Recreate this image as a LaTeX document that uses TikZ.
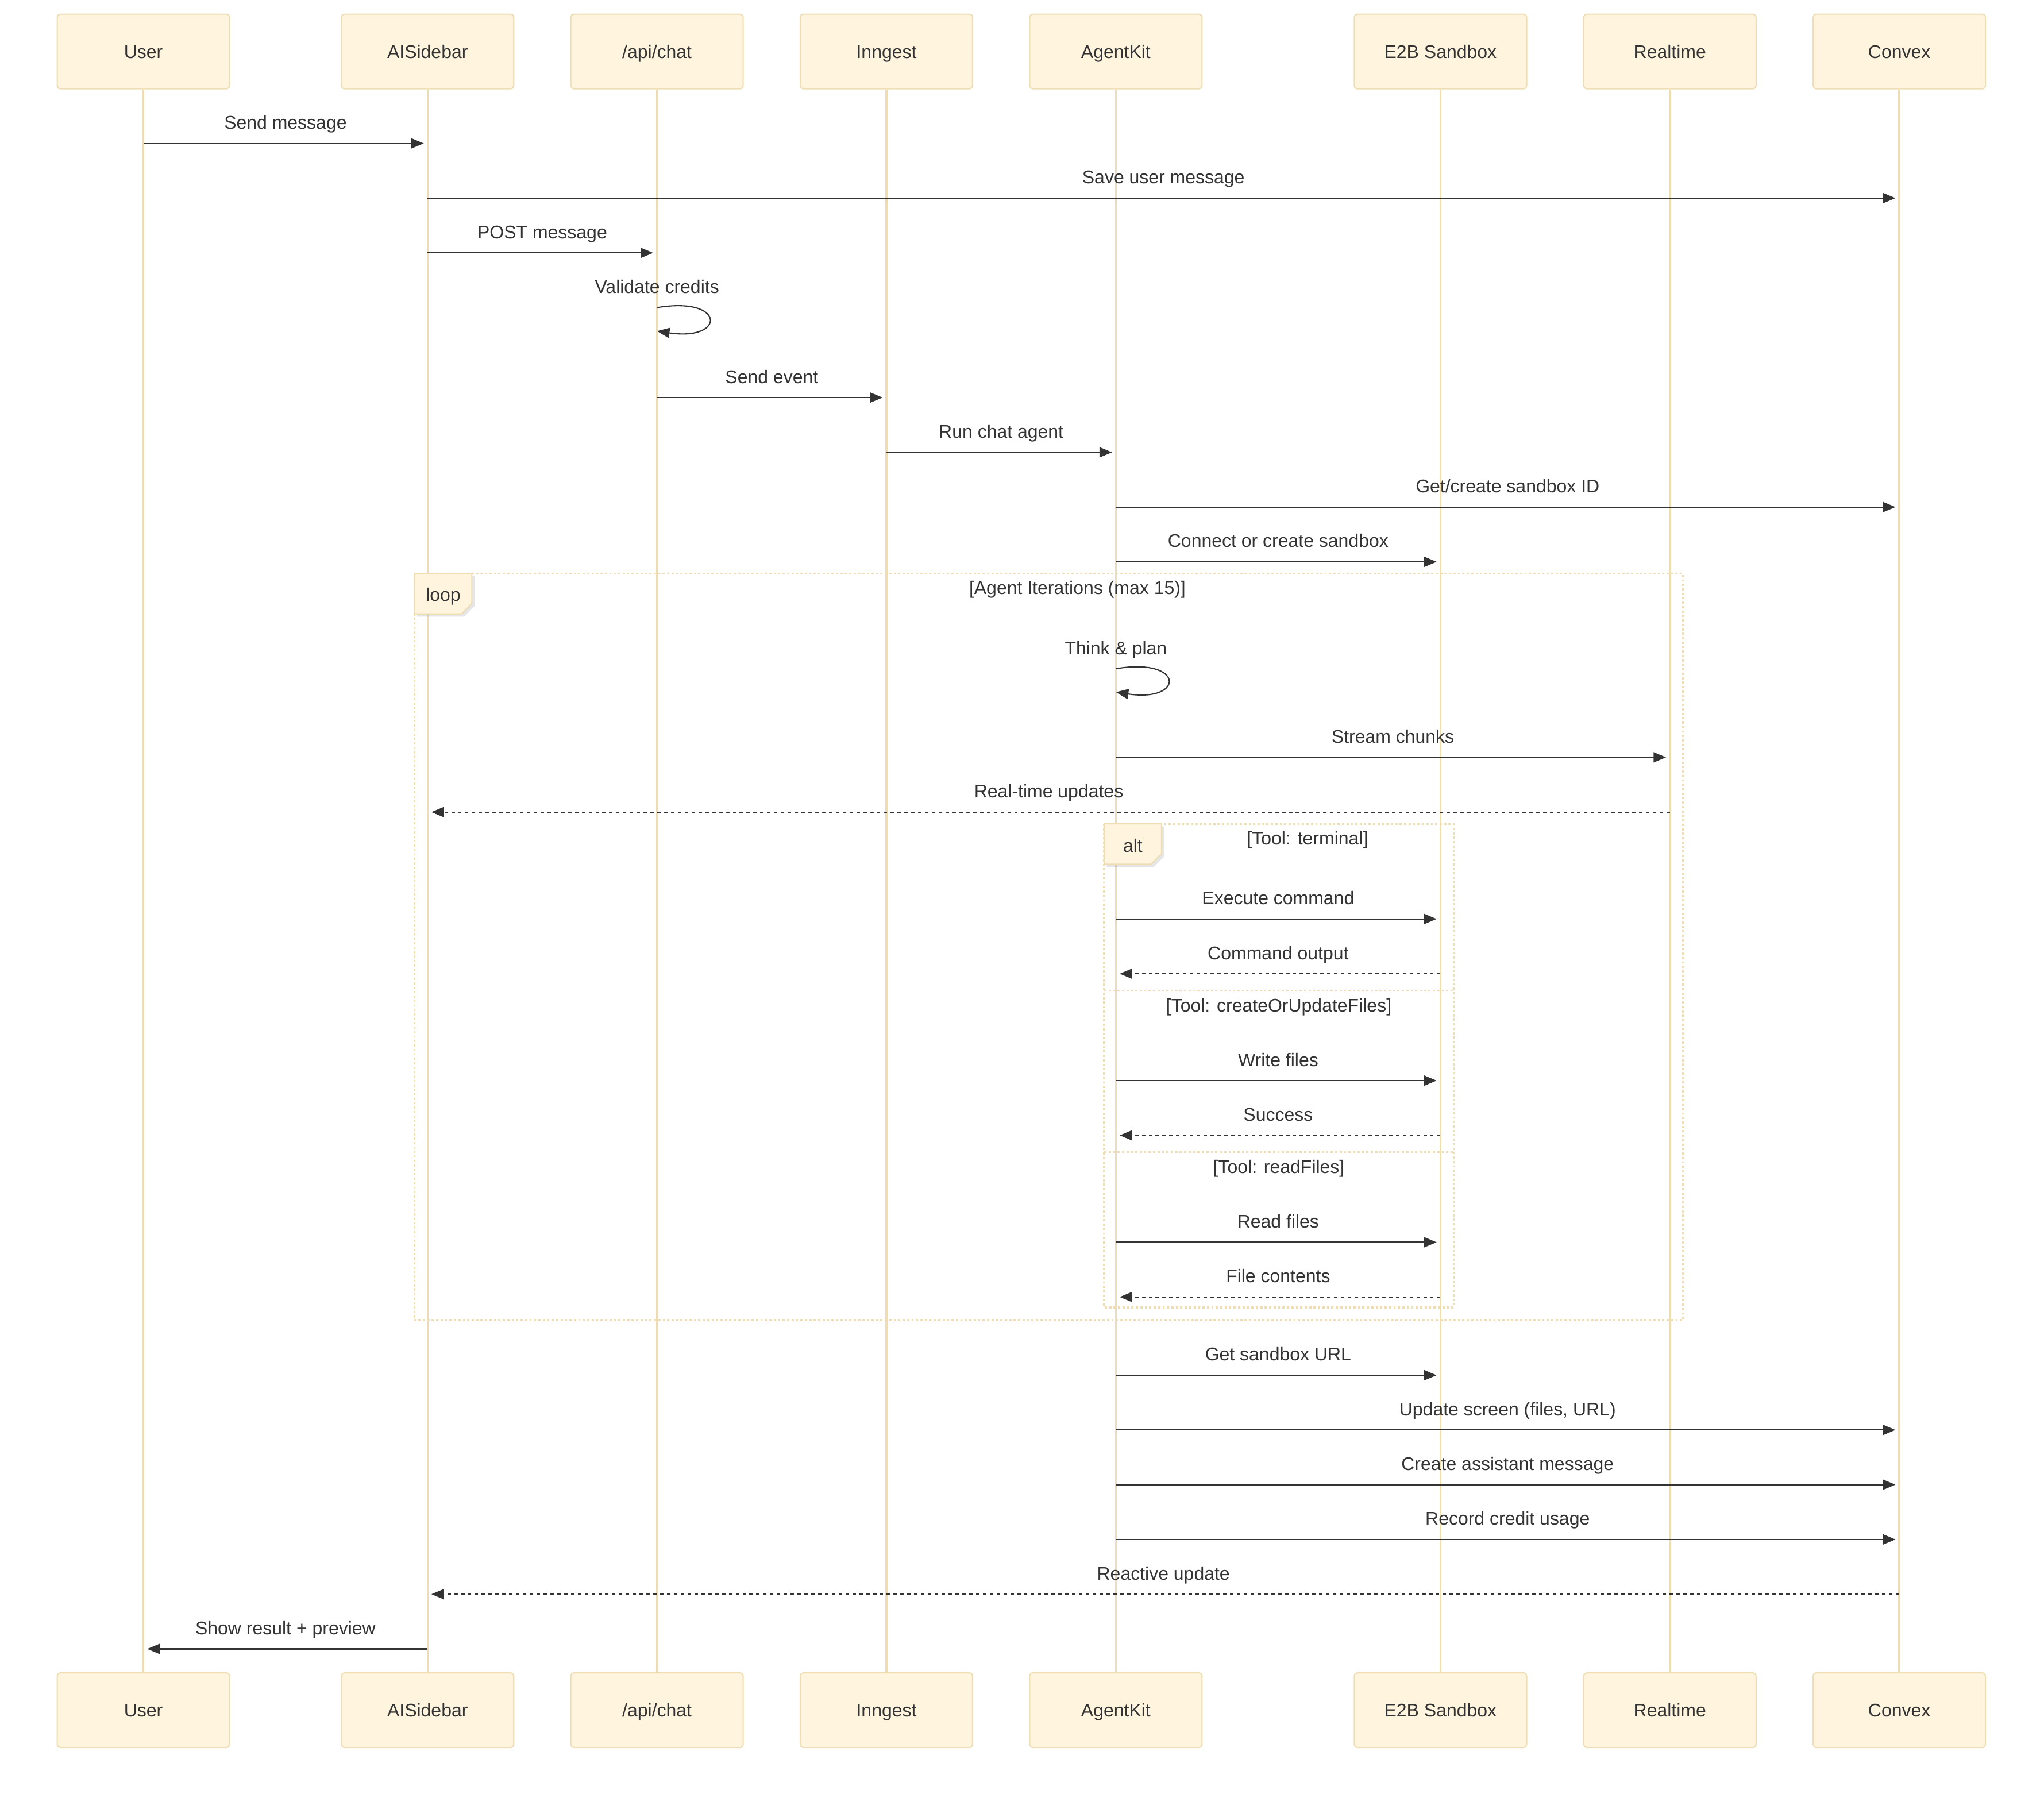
\documentclass[tikz,border=0pt]{standalone}
\usepackage{fontspec}
\setmainfont{Liberation Sans}
\usetikzlibrary{arrows.meta,shadows}
\definecolor{actfill}{HTML}{FFF5DE}
\definecolor{actline}{HTML}{EFDDB3}
\definecolor{life}{HTML}{EEDCB5}
\definecolor{ink}{HTML}{333333}
\newcommand\seqfont{\fontsize{9.1pt}{11pt}\selectfont}
\newcommand\actorpair[3]{%
  \node[actor] (#1T) at (#2,39.5) {#3};
  \node[actor] (#1B) at (#2,1312) {#3};}
\newcommand\msgS[4]{\draw[msg] (#1T |- 0,#3) -- node[lbl]{#4} (#2T |- 0,#3);}
\newcommand\msgD[4]{\draw[rmsg] (#1T |- 0,#3) -- node[lbl]{#4} (#2T |- 0,#3);}
\newcommand\msgSelf[3]{%
  \node[lbl] at (#1T |- 0,#2) {#3};
  \draw[msg, shorten >=0pt] (#1T |- 0,#2) .. controls +(53,-9) and +(53,8) .. ([yshift=-0.408cm]#1T |- 0,#2);}
\begin{document}
\begin{tikzpicture}[x=0.022691cm,y=-0.022691cm,
  actor/.style={draw=actline, fill=actfill, line width=0.6pt, rounded corners=1.5pt,
    minimum width=3.0cm, minimum height=1.3cm, inner sep=0pt, text=ink, font=\seqfont,
    text height=6.6pt, text depth=0pt},
  lifeline/.style={draw=life, line width=1pt},
  msg/.style={draw=ink, line width=0.6pt, -{Triangle[length=6.2pt,width=5pt]}, shorten >=1.9pt},
  rmsg/.style={msg, dash pattern=on 1.7pt off 1.7pt},
  lbl/.style={anchor=base, yshift=0.25cm, text=ink, font=\seqfont, inner sep=0pt},
  txt/.style={text=ink, font=\seqfont, inner sep=0pt, text height=6.6pt, text depth=0pt},
  frame/.style={draw=actline, line width=0.9pt, dash pattern=on 1.1pt off 1.1pt},
  tab/.style={draw=actline, fill=actfill, line width=0.6pt,
    drop shadow={opacity=0.2, shadow xshift=1.3pt, shadow yshift=-1.3pt}}
]
\useasboundingbox (0,0) rectangle (1568,1379);

% actors
\actorpair{user}{110}{User}
\actorpair{side}{328}{AISidebar}
\actorpair{api}{504}{/api/chat}
\actorpair{inn}{680}{Inngest}
\actorpair{agent}{856}{AgentKit}
\actorpair{e2b}{1105}{E2B Sandbox}
\actorpair{rt}{1281}{Realtime}
\actorpair{conv}{1457}{Convex}

% lifelines
\foreach \nm in {user,side,api,inn,agent,e2b,rt,conv}{
  \draw[lifeline] (\nm T.south) -- (\nm B.north);
}

% frames
\draw[frame] (318,440) rectangle (1291,1013);
\draw[tab] (318,440) -- (362,440) -- (362,463) -- (354,471) -- (318,471) -- cycle;
\node[txt] (looplbl) at (340,456) {loop};
\node[txt] (loopcond) at (826.5,451) {[Agent Iterations (max 15)]};

\draw[frame] (847,632) rectangle (1115,1003);
\draw[frame] (847,760) -- (1115,760);
\draw[frame] (847,884) -- (1115,884);
\draw[tab] (847,632) -- (891,632) -- (891,655) -- (883,663) -- (847,663) -- cycle;
\node[txt] (altlbl) at (869,648.5) {alt};
\node[txt] (alt1) at (1003,643) {[Tool: terminal]};
\node[txt] (alt2) at (981,771) {[Tool: createOrUpdateFiles]};
\node[txt] (alt3) at (981,895) {[Tool: readFiles]};

% messages
\msgS{user}{side}{110}{Send message}
\msgS{side}{conv}{152}{Save user message}
\msgS{side}{api}{194}{POST message}
\msgSelf{api}{236}{Validate credits}
\msgS{api}{inn}{305}{Send event}
\msgS{inn}{agent}{347}{Run chat agent}
\msgS{agent}{conv}{389}{Get/create sandbox ID}
\msgS{agent}{e2b}{431}{Connect or create sandbox}
\msgSelf{agent}{513}{Think \& plan}
\msgS{agent}{rt}{581}{Stream chunks}
\msgD{rt}{side}{623}{Real-time updates}
\msgS{agent}{e2b}{705}{Execute command}
\msgD{e2b}{agent}{747}{Command output}
\msgS{agent}{e2b}{829}{Write files}
\msgD{e2b}{agent}{871}{Success}
\msgS{agent}{e2b}{953}{Read files}
\msgD{e2b}{agent}{995}{File contents}
\msgS{agent}{e2b}{1055}{Get sandbox URL}
\msgS{agent}{conv}{1097}{Update screen (files, URL)}
\msgS{agent}{conv}{1139}{Create assistant message}
\msgS{agent}{conv}{1181}{Record credit usage}
\msgD{conv}{side}{1223}{Reactive update}
\msgS{side}{user}{1265}{Show result + preview}
\end{tikzpicture}
\end{document}
